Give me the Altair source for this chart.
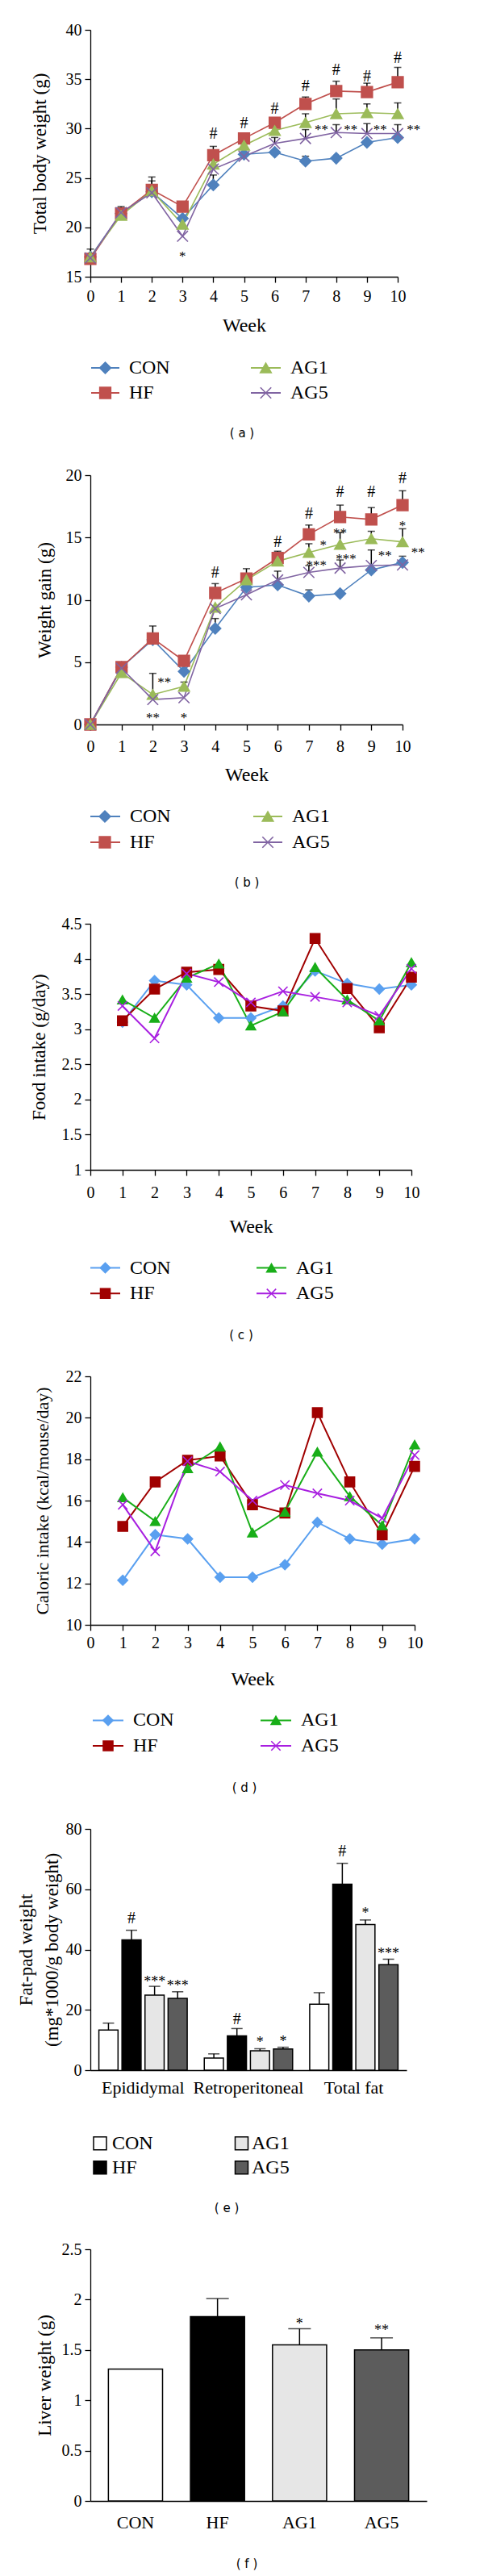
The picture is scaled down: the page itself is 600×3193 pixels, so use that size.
import altair as alt
import pandas as pd

SERIF = "Liberation Serif"
SANS = "DejaVu Sans"

groups = ["CON", "HF", "AG1", "AG5"]

# ---------------- (a) Total body weight (g) ----------------
weeks_bw = [0, 1, 2, 3, 4, 5, 6, 7, 8, 9, 10]
bw_con = [17.0, 21.4, 23.6, 20.9, 24.3, 27.4, 27.6, 26.7, 27.0, 28.6, 29.1]
bw_hf = [16.8, 21.4, 23.8, 22.1, 27.3, 29.0, 30.6, 32.5, 33.8, 33.7, 34.7]
bw_ag1 = [17.0, 21.2, 23.7, 20.3, 26.4, 28.3, 29.8, 30.6, 31.5, 31.6, 31.5]
bw_ag5 = [16.9, 21.5, 23.5, 19.1, 25.9, 27.2, 28.5, 29.0, 29.6, 29.5, 29.5]
bw_con_top = [None, None, None, None, 25.3, None, None, 27.2, None, None, None]
bw_hf_top = [17.8, 22.1, 25.1, None, 28.2, 29.5, 31.0, 33.2, 34.8, 34.6, 36.2]
bw_ag1_top = [None, None, 24.7, None, None, None, None, 31.5, 33.0, 32.5, 32.6]
bw_ag5_top = [None, None, None, None, None, None, 29.1, 29.9, 30.4, 30.5, 30.4]
sig_bw_week = [4, 5, 6, 7, 8, 9, 10, 3, 7.52, 8.47, 9.43, 10.52]
sig_bw_value = [29.5, 30.5, 32.0, 34.3, 35.9, 35.3, 37.1, 17.4, 30.2, 30.2, 30.2, 30.2]
sig_bw_mark = ["#", "#", "#", "#", "#", "#", "#", "*", "**", "**", "**", "**"]

# ---------------- (b) Weight gain (g) ----------------
weeks_wg = [0, 1, 2, 3, 4, 5, 6, 7, 8, 9, 10]
wg_con = [0.0, 4.6, 6.8, 4.25, 7.7, 11.0, 11.2, 10.3, 10.5, 12.4, 13.0]
wg_hf = [0.0, 4.6, 6.9, 5.1, 10.55, 11.7, 13.35, 15.25, 16.65, 16.45, 17.6]
wg_ag1 = [0.0, 4.15, 2.4, 3.05, 9.4, 11.6, 13.1, 13.8, 14.45, 14.9, 14.65]
wg_ag5 = [0.0, 4.5, 2.0, 2.15, 9.3, 10.4, 11.6, 12.2, 12.55, 12.75, 12.8]
wg_con_top = [None, None, None, None, 8.5, None, None, 10.8, None, None, None]
wg_hf_top = [None, None, 7.9, None, 11.3, 12.5, 13.9, 16.0, 17.6, 17.4, 18.75]
wg_ag1_top = [None, None, 4.1, 3.4, None, None, None, 14.5, 15.4, 15.5, 15.7]
wg_ag5_top = [None, None, None, None, None, None, 12.3, 12.75, 13.2, 14.0, 13.5]
sig_wg_week = [4, 6, 7, 8, 9, 10, 2.37, 2.0, 3.0, 7.46, 8.0, 7.24, 8.19, 9.44, 10.0, 10.5]
sig_wg_value = [12.2, 14.65, 16.9, 18.66, 18.66, 19.74, 3.6, 0.8, 0.8, 14.65, 15.6, 13.0, 13.5, 13.8, 16.2, 14.05]
sig_wg_mark = ["#", "#", "#", "#", "#", "#", "**", "**", "*", "*", "**", "***", "***", "**", "*", "**"]

# ---------------- (c) Food intake (g/day) ----------------
weeks_fi = [1, 2, 3, 4, 5, 6, 7, 8, 9, 10]
fi_con = [3.10, 3.69, 3.63, 3.16, 3.16, 3.33, 3.83, 3.65, 3.57, 3.63]
fi_hf = [3.12, 3.57, 3.81, 3.85, 3.33, 3.26, 4.29, 3.58, 3.02, 3.74]
fi_ag1 = [3.42, 3.16, 3.73, 3.93, 3.05, 3.25, 3.88, 3.42, 3.12, 3.95]
fi_ag5 = [3.33, 2.87, 3.79, 3.67, 3.38, 3.54, 3.46, 3.38, 3.19, 3.86]

# ---------------- (d) Caloric intake (kcal/mouse/day) ----------------
weeks_ci = [1, 2, 3, 4, 5, 6, 7, 8, 9, 10]
ci_con = [12.15, 14.35, 14.15, 12.3, 12.3, 12.9, 14.95, 14.15, 13.9, 14.15]
ci_hf = [14.75, 16.9, 17.95, 18.15, 15.8, 15.4, 20.25, 16.9, 14.35, 17.65]
ci_ag1 = [16.15, 15.0, 17.55, 18.6, 14.45, 15.45, 18.35, 16.2, 14.8, 18.7]
ci_ag5 = [15.8, 13.55, 17.9, 17.4, 16.0, 16.75, 16.35, 16.0, 15.15, 18.2]

# ---------------- (e) Fat-pad weight ----------------
sites = ["Epididymal", "Retroperitoneal", "Total fat"]
fat_epi = [13.3, 43.2, 24.9, 23.8]
fat_epi_top = [15.6, 46.4, 27.8, 26.0]
fat_retro = [4.0, 11.4, 6.4, 7.0]
fat_retro_top = [5.4, 13.8, 7.1, 7.6]
fat_total = [21.9, 61.7, 48.3, 35.0]
fat_total_top = [25.7, 68.6, 49.8, 36.8]
sig_fat_site = ["Epididymal", "Retroperitoneal", "Total fat", "Epididymal", "Epididymal",
                "Retroperitoneal", "Retroperitoneal", "Total fat", "Total fat"]
sig_fat_group = ["HF", "HF", "HF", "AG1", "AG5", "AG1", "AG5", "AG1", "AG5"]
sig_fat_value = [50.3, 16.8, 72.6, 30.2, 28.8, 10.1, 10.5, 52.9, 39.6]
sig_fat_mark = ["#", "#", "#", "***", "***", "*", "*", "*", "***"]

# ---------------- (f) Liver weight (g) ----------------
liver = [1.31, 1.83, 1.55, 1.50]
liver_top = [None, 2.01, 1.71, 1.62]
sig_liver_group = ["AG1", "AG5"]
sig_liver_value = [1.79, 1.72]
sig_liver_mark = ["*", "**"]

# ---------------- styles ----------------
X_PATH = "M-1,-1L1,1M-1,1L1,-1"
shapes = ["diamond", "square", "triangle-up", X_PATH]
colors_ab = ["#4f81bd", "#c0504d", "#9bbb59", "#8064a2"]
colors_cd = ["#5aa0f0", "#a00000", "#18ae18", "#a81fe0"]
sizes_ab = [190, 180, 210, 170]
sizes_cd = [150, 130, 160, 70]
bar_fills = ["#ffffff", "#000000", "#e6e6e6", "#5c5c5c"]


def y_axis(title, values, fmt, extent, tpad, tsize=23, tline=None):
    kw = dict(title=title, values=values, format=fmt, grid=False,
              domainColor="black", domainWidth=1.3, tickColor="black", tickWidth=1.3, tickSize=7,
              labelFont=SERIF, labelFontSize=20, labelColor="black", labelPadding=4,
              titleFont=SERIF, titleFontSize=tsize, titleFontWeight="normal", titleColor="black",
              titlePadding=tpad, minExtent=extent, maxExtent=extent)
    if tline:
        kw["titleLineHeight"] = tline
    return alt.Axis(**kw)


def week_axis(lab_pad, title_pad):
    return alt.Axis(title="Week", values=list(range(11)), format="d", grid=False, labelFlush=False,
                    domainColor="black", domainWidth=1.3, tickColor="black", tickWidth=1.3, tickSize=7,
                    labelFont=SERIF, labelFontSize=20, labelColor="black", labelPadding=lab_pad,
                    titleFont=SERIF, titleFontSize=24, titleFontWeight="normal", titleColor="black",
                    titlePadding=title_pad)


def cat_axis(lab_pad, size=22):
    return alt.Axis(title=None, labelAngle=0, ticks=False, tickSize=0, grid=False,
                    domainColor="black", domainWidth=1.3,
                    labelFont=SERIF, labelFontSize=size, labelColor="black", labelPadding=lab_pad)


def overlay(width, height, caption, cap_y, cap_x, lg=None, kind="line", colors=None, sizes=None, lw=2):
    if lg:
        r0, r1 = lg["rows"]
    else:
        r0, r1 = cap_y, cap_y + 30
    ys = alt.Scale(domain=[0, 1], range=[height + r0, height + r1])
    xs = alt.Scale(domain=[0, width], range=[0, width])
    layers = []
    if lg:
        ldf = pd.DataFrame({"group": groups,
                            "col": [i // 2 for i in range(len(groups))],
                            "row": [i % 2 for i in range(len(groups))]})
        c1, c2 = lg["cols"]
        base = alt.Chart(ldf).transform_calculate(
            lx0=f"datum.col == 0 ? {c1[0]} : {c2[0]}",
            lx1=f"datum.col == 0 ? {c1[1]} : {c2[1]}",
            lxm=f"datum.col == 0 ? {c1[2]} : {c2[2]}",
            lxt=f"datum.col == 0 ? {c1[3]} : {c2[3]}",
        )
        Y = alt.Y("row:Q", scale=ys, axis=None)
        if kind == "line":
            cs = alt.Scale(domain=groups, range=colors)
            layers.append(base.mark_rule(strokeWidth=lw).encode(
                x=alt.X("lx0:Q", scale=xs, axis=None), x2="lx1:Q", y=Y,
                color=alt.Color("group:N", scale=cs, legend=None)))
            layers.append(base.mark_point(filled=True, opacity=1, strokeWidth=1.6).encode(
                x=alt.X("lxm:Q", scale=xs, axis=None), y=Y,
                fill=alt.Fill("group:N", scale=cs, legend=None),
                stroke=alt.Stroke("group:N", scale=cs, legend=None),
                shape=alt.Shape("group:N", scale=alt.Scale(domain=groups, range=shapes), legend=None),
                size=alt.Size("group:N", scale=alt.Scale(domain=groups, range=sizes), legend=None)))
        else:
            layers.append(base.mark_point(filled=True, opacity=1, shape="square", size=256,
                                          stroke="black", strokeWidth=1.5).encode(
                x=alt.X("lxm:Q", scale=xs, axis=None), y=Y,
                fill=alt.Fill("group:N", scale=alt.Scale(domain=groups, range=bar_fills), legend=None)))
        layers.append(base.mark_text(align="left", baseline="middle", font=SERIF, fontSize=24,
                                     color="black").encode(
            x=alt.X("lxt:Q", scale=xs, axis=None), y=Y, text="group:N"))
    cap_row = (cap_y - r0) / (r1 - r0)
    cdf = pd.DataFrame({"caption": [caption]})
    layers.append(alt.Chart(cdf).transform_calculate(cx=f"{cap_x}", cy=f"{cap_row}").mark_text(
        font=SANS, fontSize=15, color="black", align="center", baseline="middle").encode(
        x=alt.X("cx:Q", scale=xs, axis=None), y=alt.Y("cy:Q", scale=ys, axis=None), text="caption:N"))
    return alt.layer(*layers)


def line_panel(weeks, series, tops, sig, colors, sizes, lw, width, height, xdom, ydom, yvals, yfmt,
               ytitle, ytsize, yext, ytpad, xlp, xtp, lg, caption, cap_y, plot_left):
    rows = []
    for gi, g in enumerate(groups):
        for wi, w in enumerate(weeks):
            rows.append({"week": w, "value": series[gi][wi],
                         "top": (tops[gi][wi] if tops else None), "group": g})
    df = pd.DataFrame(rows)
    cs = alt.Scale(domain=groups, range=colors)
    xaxis = week_axis(xlp, xtp)
    yaxis = y_axis(ytitle, yvals, yfmt, yext, ytpad, ytsize)
    xsc = alt.Scale(domain=xdom, nice=False, zero=False)
    ysc = alt.Scale(domain=ydom, nice=False, zero=False)
    X = alt.X("week:Q", scale=xsc, axis=xaxis)
    Y = alt.Y("value:Q", scale=ysc, axis=yaxis)
    base = alt.Chart(df)
    layers = [base.mark_line(strokeWidth=lw).encode(
        x=X, y=Y, color=alt.Color("group:N", scale=cs, legend=None))]
    if tops:
        eb = base.transform_filter("isValid(datum.top)")
        layers.append(eb.mark_rule(color="black", strokeWidth=1.5).encode(x=X, y=Y, y2="top:Q"))
        layers.append(eb.mark_tick(orient="horizontal", size=9, thickness=1.5, color="black").encode(
            x=X, y=alt.Y("top:Q", scale=ysc, axis=yaxis)))
    layers.append(base.mark_point(filled=True, opacity=1, strokeWidth=1.6).encode(
        x=X, y=Y,
        fill=alt.Fill("group:N", scale=cs, legend=None),
        stroke=alt.Stroke("group:N", scale=cs, legend=None),
        shape=alt.Shape("group:N", scale=alt.Scale(domain=groups, range=shapes), legend=None),
        size=alt.Size("group:N", scale=alt.Scale(domain=groups, range=sizes), legend=None)))
    if sig:
        sdf = pd.DataFrame({"week": sig[0], "value": sig[1], "mark": sig[2]})
        sb = alt.Chart(sdf)
        layers.append(sb.transform_filter("datum.mark == '#'").mark_text(
            font=SERIF, fontSize=20, color="black", baseline="middle").encode(x=X, y=Y, text="mark:N"))
        layers.append(sb.transform_filter("datum.mark != '#'").mark_text(
            font=SERIF, fontSize=17, color="black", baseline="middle", dy=4).encode(x=X, y=Y, text="mark:N"))
    main = alt.layer(*layers)
    ov = overlay(width, height, caption, cap_y, 282 - plot_left, lg, "line", colors, sizes, 2)
    return alt.layer(main, ov).resolve_scale(x="independent", y="independent").properties(
        width=width, height=height)


pa = line_panel(weeks_bw, [bw_con, bw_hf, bw_ag1, bw_ag5],
                [bw_con_top, bw_hf_top, bw_ag1_top, bw_ag5_top],
                (sig_bw_week, sig_bw_value, sig_bw_mark), colors_ab, sizes_ab, 1.6,
                381, 306, [0, 10], [15, 40], [15, 20, 25, 30, 35, 40], "d",
                "Total body weight (g)", 23, 33, 18, 7, 14,
                {"rows": (113, 144), "cols": ((1, 36, 18.5, 48), (199, 236, 217.5, 248))},
                "( a )", 194.3, 94)

pb = line_panel(weeks_wg, [wg_con, wg_hf, wg_ag1, wg_ag5],
                [wg_con_top, wg_hf_top, wg_ag1_top, wg_ag5_top],
                (sig_wg_week, sig_wg_value, sig_wg_mark), colors_ab, sizes_ab, 1.6,
                387, 309, [0, 10], [0, 20], [0, 5, 10, 15, 20], "d",
                "Weight gain (g)", 23, 35, 10, 10, 13,
                {"rows": (114, 146), "cols": ((0, 37, 18, 49), (202, 238, 220, 250))},
                "( b )", 196, 88)

pc = line_panel(weeks_fi, [fi_con, fi_hf, fi_ag1, fi_ag5], None, None, colors_cd, sizes_cd, 2,
                398, 305, [0, 10], [1, 4.5], [1, 1.5, 2, 2.5, 3, 3.5, 4, 4.5], ".1~f",
                "Food intake (g/day)", 23, 40, 12, 11, 20,
                {"rows": (121.6, 153.3), "cols": ((0, 37, 18.5, 49), (206, 243, 224.5, 255))},
                "( c )", 205, 95)

pd_ = line_panel(weeks_ci, [ci_con, ci_hf, ci_ag1, ci_ag5], None, None, colors_cd, sizes_cd, 2,
                 402, 308, [0, 10], [10, 22], [10, 12, 14, 16, 18, 20, 22], "d",
                 "Caloric intake (kcal/mouse/day)", 22, 34, 14, 5, 23,
                 {"rows": (118.4, 150), "cols": ((3, 41, 22, 53), (211, 249, 230, 261))},
                 "( d )", 201.7, 91)

# ---------------- (e) panel ----------------
fat_rows = []
for si, (vals, tops) in enumerate([(fat_epi, fat_epi_top), (fat_retro, fat_retro_top),
                                   (fat_total, fat_total_top)]):
    for gi, g in enumerate(groups):
        fat_rows.append({"site": sites[si], "group": g, "value": vals[gi], "top": tops[gi]})
fat_df = pd.DataFrame(fat_rows)
fsc = alt.Scale(domain=groups, range=bar_fills)
W_E, H_E = 392, 299
Xe = alt.X("site:N", sort=sites, scale=alt.Scale(domain=sites, paddingInner=0, paddingOuter=0),
           axis=cat_axis(11))
XOe = alt.XOffset("group:N", sort=groups,
                  scale=alt.Scale(domain=groups, paddingInner=0.17, paddingOuter=0.37))
ye_scale = alt.Scale(domain=[0, 80], nice=False)
ye_axis = y_axis(["Fat-pad weight", "(mg*1000/g body weight)"], [0, 20, 40, 60, 80], "d", 30, 6, 23, 32)
Ye = alt.Y("value:Q", scale=ye_scale, axis=ye_axis)
fb = alt.Chart(fat_df)
sig_e_df = pd.DataFrame({"site": sig_fat_site, "group": sig_fat_group, "value": sig_fat_value,
                         "mark": sig_fat_mark})
sb_e = alt.Chart(sig_e_df)
main_e = alt.layer(
    fb.mark_bar(stroke="black", strokeWidth=1.5).encode(
        x=Xe, xOffset=XOe, y=Ye, fill=alt.Fill("group:N", scale=fsc, legend=None)),
    fb.mark_rule(color="black", strokeWidth=1.5).encode(x=Xe, xOffset=XOe, y=Ye, y2="top:Q"),
    fb.mark_tick(orient="horizontal", size=14, thickness=1.5, color="black").encode(
        x=Xe, xOffset=XOe, y=alt.Y("top:Q", scale=ye_scale, axis=ye_axis)),
    sb_e.transform_filter("datum.mark == '#'").mark_text(
        font=SERIF, fontSize=20, color="black", baseline="middle").encode(
        x=Xe, xOffset=XOe, y=Ye, text="mark:N"),
    sb_e.transform_filter("datum.mark != '#'").mark_text(
        font=SERIF, fontSize=18, color="black", baseline="middle", dy=4).encode(
        x=Xe, xOffset=XOe, y=Ye, text="mark:N"),
)
ov_e = overlay(W_E, H_E, "( e )", 170.7, 282 - 113,
               {"rows": (90.7, 120.7), "cols": ((0, 0, 12, 27), (0, 0, 187.5, 200))}, kind="box")
pe = alt.layer(main_e, ov_e).resolve_scale(x="independent", y="independent").properties(
    width=W_E, height=H_E)

# ---------------- (f) panel ----------------
W_F, H_F = 417, 312
liver_df = pd.DataFrame({"group": groups, "value": liver, "top": liver_top})
Xf = alt.X("group:N", sort=groups, scale=alt.Scale(domain=groups, paddingInner=0.34, paddingOuter=0.22),
           axis=cat_axis(16))
yf_scale = alt.Scale(domain=[0, 2.5], nice=False)
yf_axis = y_axis("Liver weight (g)", [0, 0.5, 1, 1.5, 2, 2.5], ".1~f", 35, 10, 23)
Yf = alt.Y("value:Q", scale=yf_scale, axis=yf_axis)
lb = alt.Chart(liver_df)
lbe = lb.transform_filter("isValid(datum.top)")
sig_f_df = pd.DataFrame({"group": sig_liver_group, "value": sig_liver_value, "mark": sig_liver_mark})
main_f = alt.layer(
    lb.mark_bar(stroke="black", strokeWidth=1.5).encode(
        x=Xf, y=Yf, fill=alt.Fill("group:N", scale=fsc, legend=None)),
    lbe.mark_rule(color="black", strokeWidth=1.5).encode(x=Xf, y=Yf, y2="top:Q"),
    lbe.mark_tick(orient="horizontal", size=28, thickness=1.5, color="black").encode(
        x=Xf, y=alt.Y("top:Q", scale=yf_scale, axis=yf_axis)),
    alt.Chart(sig_f_df).mark_text(font=SERIF, fontSize=18, color="black", baseline="middle", dy=4).encode(
        x=Xf, y=Yf, text="mark:N"),
)
ov_f = overlay(W_F, H_F, "( f )", 78.4, 282 - 88)
pf = alt.layer(main_f, ov_f).resolve_scale(x="independent", y="independent").properties(
    width=W_F, height=H_F)

chart = alt.vconcat(pa, pb, pc, pd_, pe, pf, spacing=33).resolve_scale(
    color="independent", fill="independent", stroke="independent",
    shape="independent", size="independent"
).properties(
    padding={"left": 12, "top": 19, "right": 5, "bottom": 5}
).configure_view(stroke=None)

chart.save("out.html", embed_options={"renderer": "svg", "actions": False})
